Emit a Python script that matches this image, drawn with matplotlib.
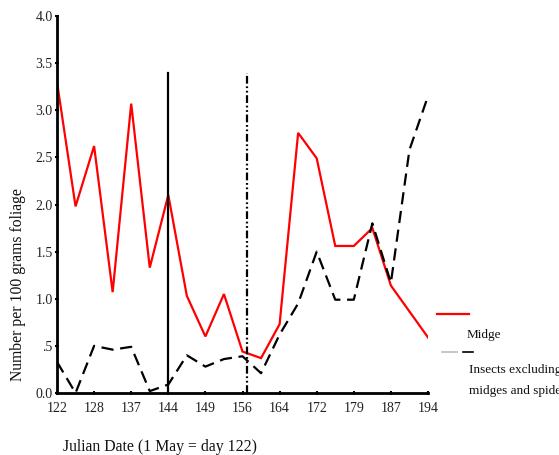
import numpy as np
import matplotlib
matplotlib.use("Agg")
import matplotlib.pyplot as plt
from matplotlib.lines import Line2D

# Dates labelled on the x axis (equally spaced, samples every half step)
days = [122, 128, 137, 144, 149, 156, 164, 172, 179, 187, 194]
tick_pos = [0, 2, 4, 6, 8, 10, 12, 14, 16, 18, 20]

# Midge (red) - no sample at position 19
midge_x = [0, 1, 2, 3, 4, 5, 6, 7, 8, 9, 10, 11, 12, 13, 14, 15, 16, 17, 18, 20]
midge_y = [3.30, 1.98, 2.62, 1.07, 3.07, 1.33, 2.10, 1.03, 0.60, 1.05,
           0.44, 0.37, 0.73, 2.76, 2.49, 1.56, 1.56, 1.75, 1.14, 0.59]

# Insects excluding midges and spiders (black dashed)
insect_x = list(range(21))
insect_y = [0.33, 0.00, 0.50, 0.46, 0.49, 0.02, 0.09, 0.40, 0.28, 0.36,
            0.39, 0.21, 0.62, 0.95, 1.50, 0.99, 0.99, 1.80, 1.17, 2.58, 3.15]

# Event markers (days)
event_days = [144, 157]
event_top = 3.4

yticks = [0, 0.5, 1, 1.5, 2, 2.5, 3, 3.5, 4]
ylabels = ['0.0', '.5', '1.0', '1.5', '2.0', '2.5', '3.0', '3.5', '4.0']

plt.rcParams['font.family'] = ['Liberation Serif', 'DejaVu Serif']

W, H = 559, 455
fig = plt.figure(figsize=(W / 100, H / 100), dpi=100)
ax = fig.add_axes([57 / W, (H - 393) / H, 371 / W, 377 / H])

ax.plot(midge_x, midge_y, color='#ff0000', lw=1.6, solid_joinstyle='miter')
ax.plot(insect_x, insect_y, color='black', lw=1.6, linestyle=(0, (5.5, 3.0)))

ev = np.interp(event_days, days, tick_pos)
ax.plot([ev[0], ev[0]], [0, event_top], color='black', lw=1.6)
ax.plot([ev[1], ev[1]], [0, event_top], color='black', lw=1.6,
        linestyle=(0, (3.5, 1.2, 0.8, 1.2, 0.8, 1.2)))

ax.set_xlim(0, 20)
ax.set_ylim(0, 4)
ax.set_xticks(tick_pos)
ax.set_xticklabels([str(d) for d in days])
ax.set_yticks(yticks)
ax.set_yticklabels(ylabels)

for s in ['top', 'right']:
    ax.spines[s].set_visible(False)
for s in ['left', 'bottom']:
    ax.spines[s].set_linewidth(2)
ax.tick_params(direction='inout', length=3, width=1.5,
               labelsize=10, labelcolor='#222222')
ax.tick_params(axis='x', pad=5)
ax.tick_params(axis='y', pad=1.5)

fig.text(18 / W, 1 - 285 / H, 'Number per 100 grams foliage', rotation=90,
         ha='center', va='center', fontsize=11.3, color='#111111')
fig.text(160 / W, 1 - 447 / H, 'Julian Date (1 May = day 122)',
         ha='center', va='center', fontsize=11.3, color='#111111')

# legend drawn by hand
fig.add_artist(Line2D([437 / W, 469 / W], [1 - 314 / H, 1 - 314 / H],
                      color='#ff0000', lw=1.6))
fig.text(467 / W, 1 - 335 / H, 'Midge', ha='left', va='center',
         fontsize=9.5, color='#111111')
fig.add_artist(Line2D([442 / W, 457 / W], [1 - 352 / H, 1 - 352 / H],
                      color='#bbbbbb', lw=1.2))
fig.add_artist(Line2D([463 / W, 473 / W], [1 - 352 / H, 1 - 352 / H],
                      color='black', lw=1.2))
fig.text(469 / W, 1 - 370 / H, 'Insects excluding', ha='left', va='center',
         fontsize=9.5, color='#111111')
fig.text(469 / W, 1 - 391 / H, 'midges and spiders', ha='left', va='center',
         fontsize=9.5, color='#111111')

fig.savefig('out.png', dpi=100)
